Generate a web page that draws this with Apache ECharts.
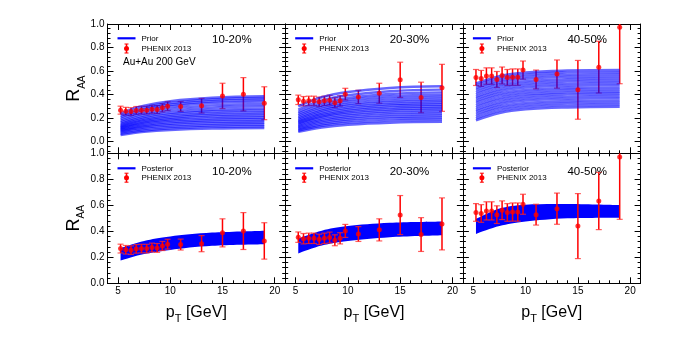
<!DOCTYPE html>
<html>
<head>
<meta charset="utf-8">
<script src="https://cdn.jsdelivr.net/npm/echarts@6/dist/echarts.min.js"></script>
<style>
html, body { margin: 0; padding: 0; background: #fff; }
#chart { width: 674px; height: 337px; }
</style>
</head>
<body>
<div id="chart"></div>
<script>
// PHENIX 2013 points (pT bins)
var pT = [5.25, 5.75, 6.25, 6.75, 7.25, 7.75, 8.25, 8.75, 9.25, 9.75, 11, 13, 15, 17, 19];
var raa1020 = [0.267, 0.258, 0.255, 0.265, 0.267, 0.267, 0.275, 0.272, 0.287, 0.301, 0.298, 0.305, 0.388, 0.402, 0.326];
var err1020 = [0.034, 0.033, 0.033, 0.033, 0.033, 0.033, 0.034, 0.034, 0.035, 0.038, 0.042, 0.062, 0.108, 0.142, 0.140];
var raa2030 = [0.355, 0.343, 0.346, 0.346, 0.338, 0.346, 0.352, 0.331, 0.346, 0.403, 0.379, 0.411, 0.525, 0.375, 0.457];
var err2030 = [0.040, 0.040, 0.040, 0.040, 0.040, 0.040, 0.042, 0.042, 0.043, 0.050, 0.057, 0.085, 0.150, 0.130, 0.200];
var raa4050 = [0.545, 0.537, 0.557, 0.557, 0.528, 0.562, 0.545, 0.548, 0.548, 0.608, 0.528, 0.574, 0.440, 0.633, 0.972];
var err4050 = [0.068, 0.068, 0.070, 0.070, 0.068, 0.072, 0.068, 0.070, 0.070, 0.077, 0.080, 0.120, 0.250, 0.220, 0.480];

// prior curves, sampled at priorX
var priorX = [5.25, 7.5, 10, 14, 19];
var prior1020 = [
  [0.055, 0.082, 0.098, 0.110, 0.115],
  [0.065, 0.094, 0.112, 0.125, 0.130],
  [0.075, 0.107, 0.125, 0.139, 0.145],
  [0.085, 0.119, 0.139, 0.154, 0.160],
  [0.093, 0.130, 0.152, 0.168, 0.175],
  [0.100, 0.140, 0.165, 0.183, 0.190],
  [0.108, 0.152, 0.178, 0.197, 0.205],
  [0.115, 0.162, 0.190, 0.212, 0.220],
  [0.122, 0.173, 0.203, 0.226, 0.235],
  [0.130, 0.184, 0.216, 0.240, 0.250],
  [0.140, 0.196, 0.230, 0.255, 0.265],
  [0.150, 0.209, 0.244, 0.270, 0.280],
  [0.162, 0.224, 0.261, 0.289, 0.300],
  [0.175, 0.240, 0.279, 0.308, 0.320],
  [0.190, 0.258, 0.298, 0.328, 0.340],
  [0.205, 0.273, 0.313, 0.343, 0.355],
  [0.220, 0.288, 0.328, 0.358, 0.370],
  [0.240, 0.305, 0.344, 0.373, 0.385]
];
var prior2030 = [
  [0.082, 0.120, 0.143, 0.160, 0.167],
  [0.092, 0.134, 0.159, 0.178, 0.185],
  [0.102, 0.147, 0.175, 0.195, 0.203],
  [0.112, 0.161, 0.190, 0.211, 0.220],
  [0.122, 0.174, 0.205, 0.228, 0.237],
  [0.132, 0.187, 0.220, 0.244, 0.254],
  [0.142, 0.200, 0.234, 0.260, 0.270],
  [0.152, 0.212, 0.248, 0.274, 0.285],
  [0.162, 0.224, 0.261, 0.289, 0.300],
  [0.172, 0.236, 0.275, 0.304, 0.315],
  [0.183, 0.249, 0.289, 0.318, 0.330],
  [0.195, 0.263, 0.304, 0.334, 0.346],
  [0.208, 0.277, 0.319, 0.350, 0.362],
  [0.222, 0.293, 0.336, 0.367, 0.380],
  [0.237, 0.309, 0.353, 0.385, 0.398],
  [0.253, 0.327, 0.372, 0.405, 0.418],
  [0.272, 0.349, 0.394, 0.428, 0.442],
  [0.300, 0.377, 0.422, 0.456, 0.470]
];
var prior4050 = [
  [0.180, 0.243, 0.274, 0.290, 0.295],
  [0.198, 0.261, 0.292, 0.308, 0.313],
  [0.217, 0.280, 0.311, 0.327, 0.332],
  [0.235, 0.298, 0.329, 0.345, 0.350],
  [0.254, 0.317, 0.348, 0.364, 0.369],
  [0.272, 0.335, 0.366, 0.382, 0.387],
  [0.291, 0.354, 0.385, 0.401, 0.406],
  [0.309, 0.372, 0.403, 0.419, 0.424],
  [0.328, 0.391, 0.422, 0.438, 0.443],
  [0.346, 0.409, 0.440, 0.456, 0.461],
  [0.365, 0.428, 0.459, 0.475, 0.480],
  [0.383, 0.446, 0.477, 0.493, 0.498],
  [0.402, 0.465, 0.496, 0.512, 0.517],
  [0.420, 0.483, 0.514, 0.530, 0.535],
  [0.439, 0.502, 0.533, 0.549, 0.554],
  [0.457, 0.520, 0.551, 0.567, 0.572],
  [0.476, 0.539, 0.570, 0.586, 0.591],
  [0.494, 0.557, 0.588, 0.604, 0.609]
];

// posterior band edges
var postX = [5.25, 7.5, 10, 14, 19];
var postLo1020 = [0.175, 0.225, 0.257, 0.288, 0.300];
var postHi1020 = [0.270, 0.325, 0.360, 0.390, 0.405];
var postLo2030 = [0.230, 0.290, 0.325, 0.355, 0.370];
var postHi2030 = [0.345, 0.405, 0.440, 0.465, 0.475];
var postLo4050 = [0.380, 0.440, 0.475, 0.500, 0.505];
var postHi4050 = [0.495, 0.575, 0.605, 0.610, 0.602];

var centLabels = ['10-20%', '20-30%', '40-50%'];
var xMajor = [5, 10, 15, 20];
var xMinor = [4, 6, 7, 8, 9, 11, 12, 13, 14, 16, 17, 18, 19, 21];
var yMajor = [0, 0.2, 0.4, 0.6, 0.8, 1.0];
var yMinor = [-0.08, -0.04, 0, 0.04, 0.08, 0.12, 0.16, 0.2, 0.24, 0.28, 0.32, 0.36, 0.4, 0.44, 0.48,
  0.52, 0.56, 0.6, 0.64, 0.68, 0.72, 0.76, 0.8, 0.84, 0.88, 0.92, 0.96, 1.0];

var FONT = '"Liberation Sans", Arial, Helvetica, sans-serif';
var panels = [
  { raa: raa1020, err: err1020, prior: prior1020, lo: postLo1020, hi: postHi1020 },
  { raa: raa2030, err: err2030, prior: prior2030, lo: postLo2030, hi: postHi2030 },
  { raa: raa4050, err: err4050, prior: prior4050, lo: postLo4050, hi: postHi4050 }
];

var colLeft = [107.5, 285.2, 462.9];
var colW = 177.7;
var rowTop = [24, 153.3];
var rowH = [129.3, 130];
var rowMin = [-0.1, 0];

var grids = [], xAxes = [], yAxes = [], series = [], graphics = [];

function errRender(params, api) {
  var x = api.value(0), y = api.value(1), e = api.value(2);
  var hi = api.coord([x, y + e]);
  var lo = api.coord([x, y - e]);
  var cs = params.coordSys;
  var top = Math.max(hi[1], cs.y);
  var bot = Math.min(lo[1], cs.y + cs.height);
  var st = { stroke: '#ff0000', lineWidth: 1.5 };
  var cap = { stroke: 'rgba(255,40,40,0.75)', lineWidth: 1.2 };
  var kids = [{ type: 'line', shape: { x1: hi[0], y1: top, x2: hi[0], y2: bot }, style: st }];
  if (hi[1] >= cs.y) kids.push({ type: 'line', shape: { x1: hi[0] - 3, y1: hi[1], x2: hi[0] + 3, y2: hi[1] }, style: cap });
  if (lo[1] <= cs.y + cs.height) kids.push({ type: 'line', shape: { x1: lo[0] - 3, y1: lo[1], x2: lo[0] + 3, y2: lo[1] }, style: cap });
  return { type: 'group', children: kids };
}

// smooth path through pixel points (Catmull-Rom as cubic bezier)
function spline(pts, first) {
  var d = (first ? 'M' : 'L') + pts[0][0] + ' ' + pts[0][1];
  for (var i = 0; i < pts.length - 1; i++) {
    var p0 = pts[i - 1] || pts[i], p1 = pts[i], p2 = pts[i + 1], p3 = pts[i + 2] || pts[i + 1];
    var c1 = [p1[0] + (p2[0] - p0[0]) / 6, p1[1] + (p2[1] - p0[1]) / 6];
    var c2 = [p2[0] - (p3[0] - p1[0]) / 6, p2[1] - (p3[1] - p1[1]) / 6];
    d += 'C' + c1[0] + ' ' + c1[1] + ' ' + c2[0] + ' ' + c2[1] + ' ' + p2[0] + ' ' + p2[1];
  }
  return d;
}
function bandRender(params, api) {
  if (params.dataIndex !== 0) return null;
  var n = params.dataInsideLength;
  var up = [], dn = [];
  for (var i = 0; i < n; i++) {
    up.push(api.coord([api.value(0, i), api.value(2, i)]));
    dn.push(api.coord([api.value(0, i), api.value(1, i)]));
  }
  dn.reverse();
  return { type: 'path', shape: { pathData: spline(up, true) + spline(dn, false) + 'Z' },
    style: { fill: '#0000ff', stroke: null } };
}

function xAxisOf(k, pos, ticks, len, showLine, labels) {
  return {
    type: 'value', gridIndex: k, position: pos, min: 4, max: 21,
    axisLine: { show: showLine, onZero: false, lineStyle: { color: '#000', width: 1 } },
    axisTick: { show: true, inside: true, length: len, customValues: ticks, lineStyle: { color: '#000', width: 1 } },
    axisLabel: { show: labels, customValues: xMajor, margin: 3, fontSize: 10, color: '#000', fontFamily: FONT,
      showMinLabel: true, showMaxLabel: true, hideOverlap: false },
    splitLine: { show: false }
  };
}
function yAxisOf(k, pos, min, ticks, len, showLine, labels) {
  return {
    type: 'value', gridIndex: k, position: pos, min: min, max: 1,
    axisLine: { show: showLine, onZero: false, lineStyle: { color: '#000', width: 1 } },
    axisTick: { show: true, inside: true, length: len, customValues: ticks, lineStyle: { color: '#000', width: 1 } },
    axisLabel: { show: labels, customValues: yMajor, margin: 3, fontSize: 10, color: '#000', fontFamily: FONT,
      showMinLabel: true, showMaxLabel: true, hideOverlap: false,
      formatter: function (v) { return v.toFixed(1); } },
    splitLine: { show: false }
  };
}

for (var r = 0; r < 2; r++) {
  for (var c = 0; c < 3; c++) {
    var k = r * 3 + c;
    var L = colLeft[c], T = rowTop[r];
    var p = panels[c];
    grids.push({ left: L, top: T, width: colW, height: rowH[r] });

    var xb = xAxisOf(k, 'bottom', xMajor, 6, true, r === 1);
    if (r === 1) {
      xb.name = '{p|p}{t|T}{p| [GeV]}';
      xb.nameLocation = 'middle';
      xb.nameGap = 17;
      xb.nameTextStyle = { fontFamily: FONT, color: '#000', rich: {
        p: { fontSize: 16, fontFamily: FONT, color: '#000', lineHeight: 24, verticalAlign: 'middle' },
        t: { fontSize: 11, fontFamily: FONT, color: '#000', lineHeight: 24, verticalAlign: 'bottom' }
      } };
    }
    xAxes.push(xb);
    xAxes.push(xAxisOf(k, 'bottom', xMinor, 3, false, false));
    xAxes.push(xAxisOf(k, 'top', xMajor, 6, true, false));
    xAxes.push(xAxisOf(k, 'top', xMinor, 3, false, false));

    // top-left tick labels are added after layout, on their own layer
    var yl = yAxisOf(k, 'left', rowMin[r], yMajor, 6, true, c === 0 && r === 1);
    if (c === 0) {
      yl.name = '{r|R}{s|AA}';
      yl.nameLocation = 'middle';
      yl.nameRotate = 90;
      yl.nameGap = 20;
      yl.nameTextStyle = { fontFamily: FONT, color: '#000', rich: {
        r: { fontSize: 18, fontFamily: FONT, color: '#000', lineHeight: 26, verticalAlign: 'middle' },
        s: { fontSize: 10, fontFamily: FONT, color: '#000', lineHeight: 26, verticalAlign: 'bottom' }
      } };
    }
    yAxes.push(yl);
    yAxes.push(yAxisOf(k, 'left', rowMin[r], yMinor, 3, false, false));
    yAxes.push(yAxisOf(k, 'right', rowMin[r], yMajor, 6, true, false));
    yAxes.push(yAxisOf(k, 'right', rowMin[r], yMinor, 3, false, false));

    var ax = { xAxisIndex: 4 * k, yAxisIndex: 4 * k };
    var pts = pT.map(function (x, i) { return [x, p.raa[i], p.err[i]]; });

    if (r === 0) {
      p.prior.forEach(function (curve) {
        series.push(Object.assign({
          type: 'line', smooth: 0.4, showSymbol: false, silent: true, z: 3,
          lineStyle: { color: 'rgba(0,0,255,0.6)', width: 2.4 },
          data: priorX.map(function (x, i) { return [x, curve[i]]; })
        }, ax));
      });
      series.push(Object.assign({ type: 'custom', renderItem: errRender, data: pts, z: 2, silent: true }, ax));
      series.push(Object.assign({ type: 'scatter', symbolSize: 5, itemStyle: { color: '#ff0000' }, z: 4, silent: true,
        data: pts.map(function (d) { return [d[0], d[1]]; }) }, ax));
    } else {
      series.push(Object.assign({
        type: 'custom', renderItem: bandRender, silent: true, z: 1,
        data: postX.map(function (x, i) { return [x, p.lo[i], p.hi[i]]; })
      }, ax));
      series.push(Object.assign({ type: 'custom', renderItem: errRender, data: pts, z: 2, silent: true }, ax));
      series.push(Object.assign({ type: 'scatter', symbolSize: 5, itemStyle: { color: '#ff0000' }, z: 3, silent: true,
        data: pts.map(function (d) { return [d[0], d[1]]; }) }, ax));
    }

    // legend box
    var ly1 = r === 0 ? T + 14.3 : T + 15;
    var ly2 = r === 0 ? T + 24.5 : T + 24.4;
    var cy = r === 0 ? T + 16 : T + 18.4;
    graphics.push({ type: 'line', shape: { x1: L + 10, y1: ly1, x2: L + 28, y2: ly1 }, style: { stroke: '#0000ff', lineWidth: 2.2 } });
    graphics.push({ type: 'text', x: L + 34, y: ly1, style: { text: r === 0 ? 'Prior' : 'Posterior', fontSize: 8, fontFamily: FONT, fill: '#000', verticalAlign: 'middle' } });
    graphics.push({ type: 'line', shape: { x1: L + 19, y1: ly2 - 4.5, x2: L + 19, y2: ly2 + 4.5 }, style: { stroke: '#ff0000', lineWidth: 1.5 } });
    graphics.push({ type: 'line', shape: { x1: L + 17, y1: ly2 - 4.5, x2: L + 21, y2: ly2 - 4.5 }, style: { stroke: '#ff0000', lineWidth: 1 } });
    graphics.push({ type: 'line', shape: { x1: L + 17, y1: ly2 + 4.5, x2: L + 21, y2: ly2 + 4.5 }, style: { stroke: '#ff0000', lineWidth: 1 } });
    graphics.push({ type: 'circle', shape: { cx: L + 19, cy: ly2, r: 2.5 }, style: { fill: '#ff0000' } });
    graphics.push({ type: 'text', x: L + 34, y: ly2, style: { text: 'PHENIX 2013', fontSize: 8, fontFamily: FONT, fill: '#000', verticalAlign: 'middle' } });
    graphics.push({ type: 'text', x: L + 104.5, y: cy, style: { text: centLabels[c], fontSize: 11.5, fontFamily: FONT, fill: '#000', verticalAlign: 'middle' } });
    if (r === 0 && c === 0) {
      graphics.push({ type: 'text', x: L + 15.5, y: T + 38.7, style: { text: 'Au+Au 200 GeV', fontSize: 10, fontFamily: FONT, fill: '#000', verticalAlign: 'middle' } });
    }
  }
}

var chart = echarts.init(document.getElementById('chart'), null, { renderer: 'canvas' });
chart.setOption({
  backgroundColor: '#fff',
  animation: false,
  textStyle: { fontFamily: FONT },
  grid: grids,
  xAxis: xAxes,
  yAxis: yAxes,
  series: series
});

graphics.forEach(function (g) { g.z = 100; });
// top-left panel tick labels, placed through the panel's own cartesian
yMajor.forEach(function (v) {
  var pt = chart.convertToPixel({ xAxisIndex: 0, yAxisIndex: 0 }, [4, v]);
  var py = pt && isFinite(pt[1]) ? pt[1] : rowTop[0] + rowH[0] * (1 - v) / (1 - rowMin[0]);
  graphics.push({ type: 'text', x: colLeft[0] - 3, y: py, zlevel: 5, z: 100,
    style: { text: v.toFixed(1), fontSize: 10, fontFamily: FONT, fill: '#000', align: 'right', verticalAlign: 'middle' } });
});
chart.setOption({ graphic: { elements: graphics } });
</script>
</body>
</html>
